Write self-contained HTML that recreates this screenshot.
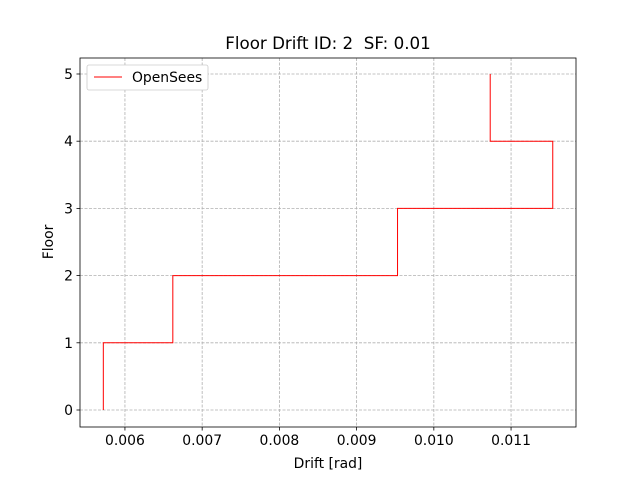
<!DOCTYPE html>
<html><head><meta charset="utf-8"><style>
body{margin:0;background:#fff;font-family:"Liberation Sans","DejaVu Sans",sans-serif;}
svg text{font-family:"DejaVu Sans","Liberation Sans",sans-serif;white-space:pre;}
</style></head><body>
<svg id="chart" width="640" height="480" xmlns="http://www.w3.org/2000/svg"></svg>
<script>
const floors = [0, 1, 2, 3, 4, 5];
const drifts = [0.00572, 0.00662, 0.00953, 0.01154, 0.01073];
const xTicks = [0.006, 0.007, 0.008, 0.009, 0.010, 0.011];
const xTickLabels = ["0.006", "0.007", "0.008", "0.009", "0.010", "0.011"];
const yTicks = [0, 1, 2, 3, 4, 5];

const L=80,R=576,T=58,B=427;
const xmin=0.005418,xmax=0.011841,ymin=-0.253,ymax=5.238;
const sx=v=>L+(v-xmin)/(xmax-xmin)*(R-L);
const sy=v=>B-(v-ymin)/(ymax-ymin)*(B-T);
const svg=document.getElementById('chart');
const NS='http://www.w3.org/2000/svg';
function mk(tag,attrs,txt){const e=document.createElementNS(NS,tag);for(const k in attrs)e.setAttribute(k,attrs[k]);if(txt!=null)e.textContent=txt;svg.appendChild(e);return e;}

let e;
e=mk('rect',{x:L,y:T,width:R-L,height:B-T,fill:'#fff'});



xTicks.forEach((t,i)=>{const x=sx(t);
 e=mk('line',{x1:x,x2:x,y1:T,y2:B,stroke:'#b0b0b0','stroke-width':0.8,'stroke-dasharray':'3,1.5'});
 
 
 mk('line',{x1:x,x2:x,y1:B,y2:B+3.5,stroke:'#000','stroke-width':0.8});
 e=mk('text',{x:x,y:B+18,'font-size':13.9,'text-anchor':'middle'},xTickLabels[i]);
 
 
});
yTicks.forEach(t=>{const y=sy(t);
 e=mk('line',{x1:L,x2:R,y1:y,y2:y,stroke:'#b0b0b0','stroke-width':0.8,'stroke-dasharray':'3,1.5'});
 
 
 mk('line',{x1:L-3.5,x2:L,y1:y,y2:y,stroke:'#000','stroke-width':0.8});
 e=mk('text',{x:L-7,y:y+5,'font-size':13.9,'text-anchor':'end'},String(t));
 
 
});

let pts=[];
drifts.forEach((d,i)=>{pts.push([sx(d),sy(floors[i])]);pts.push([sx(d),sy(floors[i+1])]);});
e=mk('polyline',{points:pts.map(p=>p.join(',')).join(' '),fill:'none',stroke:'#ff0000','stroke-width':1});



e=mk('rect',{x:L,y:T,width:R-L,height:B-T,fill:'none',stroke:'#000','stroke-width':0.8});



e=mk('text',{x:(L+R)/2,y:49,'font-size':16.7,'text-anchor':'middle'},'Floor Drift ID: 2  SF: 0.01');


e=mk('text',{x:(L+R)/2,y:468,'font-size':13.9,'text-anchor':'middle'},'Drift [rad]');


e=mk('text',{x:0,y:0,'font-size':13.9,'text-anchor':'middle',transform:'translate(53,242) rotate(-90)'},'Floor');



e=mk('rect',{x:87,y:65,width:121,height:25,rx:2,fill:'#fff',stroke:'#ccc','stroke-width':0.8});


e=mk('line',{x1:94,x2:122,y1:77,y2:77,stroke:'#ff0000','stroke-width':1});


e=mk('text',{x:132,y:82,'font-size':13.9},'OpenSees');


</script>
</body></html>
